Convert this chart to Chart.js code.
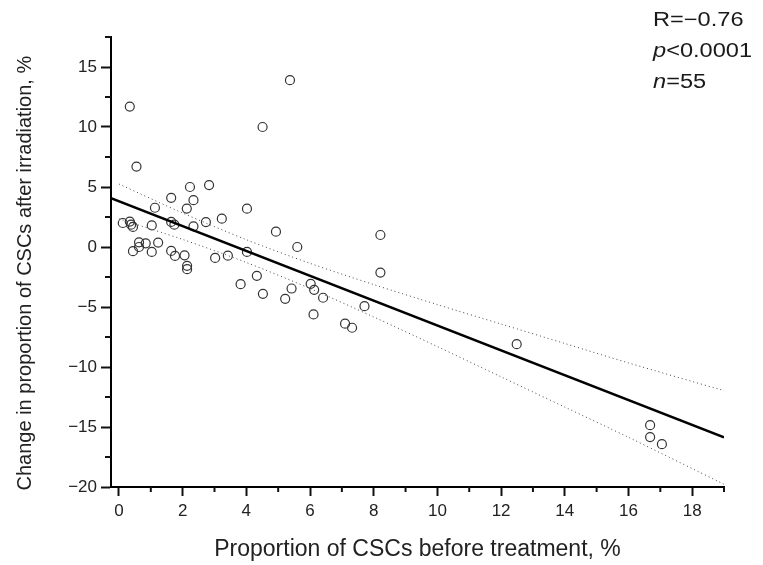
<!DOCTYPE html>
<html lang="en">
    <head>
        <meta charset="UTF-8" />
        <title>CSCs change after irradiation</title>
        <script src="https://cdn.jsdelivr.net/npm/chart.js@4.4.0/dist/chart.umd.min.js"></script>
        <style>
            body { margin: 0; background: #fff; }
            #wrap { position: relative; width: 763px; height: 565px; }
            #stats {
                position: absolute; left: 653px; top: 4px;
                font-family: "Liberation Sans", Arial, sans-serif;
                font-size: 20px; line-height: 31px; color: #1a1a1a;
                transform: scaleX(1.18); transform-origin: left top;
            }
        </style>
    </head>
    <body>
        <div id="wrap">
            <canvas id="chart"></canvas>
            <div id="stats">R=&minus;0.76<br><i>p</i>&lt;0.0001<br><i>n</i>=55</div>
        </div>
        <script>

        // proportion before treatment (x) and change after irradiation (y), %
        const xVals = [0.34, 5.37, 4.51, 0.55, 2.23, 2.83, 1.64, 2.34, 1.13, 2.13,
                       4.02, 3.23, 2.73, 0.12, 0.34, 0.44, 1.03, 1.64, 1.74, 2.34,
                       4.93, 5.60, 0.63, 0.84, 1.23, 0.44, 0.63, 1.03, 1.64, 1.76,
                       2.06, 2.14, 2.14, 3.02, 3.42, 4.02, 4.33, 3.82, 8.21, 8.21,
                       4.52, 5.22, 5.42, 6.02, 6.13, 6.41, 6.11, 7.71, 7.10, 7.32,
                       12.49, 16.68, 16.68, 17.05, 0.38];
        const yVals = [11.7, 13.9, 10.0, 6.7, 5.0, 5.16, 4.1, 3.9, 3.27, 3.2,
                       3.19, 2.36, 2.08, 2.0, 2.12, 1.67, 1.8, 2.09, 1.86, 1.72,
                       1.28, 0.0, 0.39, 0.31, 0.37, -0.35, 0.0, -0.41, -0.33, -0.74,
                       -0.69, -1.57, -1.85, -0.91, -0.72, -0.41, -2.4, -3.1, 1.0, -2.13,
                       -3.9, -4.32, -3.46, -3.07, -3.57, -4.23, -5.62, -4.93, -6.39, -6.73,
                       -8.1, -14.85, -15.84, -16.43, 1.86];

        // regression line and its confidence band
        const fitX = [-0.25, 19];
        const fitY = [4.06, -15.87];
        const bandX = [0, 2, 4, 6, 8, 10, 12, 14, 16, 19];
        const bandUpper = [5.25, 2.83, 0.61, -1.36, -3.13, -4.8, -6.42, -8.04, -9.66, -11.97];
        const bandLower = [2.35, 0.63, -1.29, -3.46, -5.83, -8.3, -10.82, -13.34, -15.86, -19.77];

        // axis ticks
        const xMajor = [0, 2, 4, 6, 8, 10, 12, 14, 16, 18];
        const xMinor = [1, 3, 5, 7, 9, 11, 13, 15, 17, 19];
        const yMajor = [-20, -15, -10, -5, 0, 5, 10, 15];
        const yMinor = [-17.5, -12.5, -7.5, -2.5, 2.5, 7.5, 12.5, 17.5];

        const pts = xVals.map((x, i) => ({ x: x, y: yVals[i] }));
        const fit = fitX.map((x, i) => ({ x: x, y: fitY[i] }));
        const upper = bandX.map((x, i) => ({ x: x, y: bandUpper[i] }));
        const lower = bandX.map((x, i) => ({ x: x, y: bandLower[i] }));

        const fmt = v => (v < 0 ? '\u2212' + Math.abs(v) : String(v));

        const minorTicks = {
            id: 'minorTicks',
            afterDraw(chart) {
                const ctx = chart.ctx;
                const sx = chart.scales.x, sy = chart.scales.y;
                ctx.save();
                ctx.strokeStyle = '#111';
                ctx.lineWidth = 2;
                ctx.beginPath();
                xMinor.forEach(v => {
                    const px = sx.getPixelForValue(v);
                    ctx.moveTo(px, sx.top);
                    ctx.lineTo(px, sx.top + 5);
                });
                yMinor.forEach(v => {
                    const py = sy.getPixelForValue(v);
                    ctx.moveTo(sy.right, py);
                    ctx.lineTo(sy.right - 6, py);
                });
                ctx.stroke();
                ctx.restore();
            }
        };

        const font = '"Liberation Sans", Arial, sans-serif';

        new Chart(document.getElementById('chart'), {
            type: 'scatter',
            data: {
                datasets: [
                    { data: upper, showLine: true, pointRadius: 0, borderColor: '#444',
                      borderWidth: 1, borderDash: [1, 3], tension: 0.3 },
                    { data: lower, showLine: true, pointRadius: 0, borderColor: '#444',
                      borderWidth: 1, borderDash: [1, 3], tension: 0.3 },
                    { data: fit, showLine: true, pointRadius: 0, borderColor: '#000',
                      borderWidth: 2.5 },
                    { data: pts, pointRadius: 4.5, pointBorderWidth: 1.2,
                      pointBorderColor: '#333', pointBackgroundColor: 'rgba(0,0,0,0)' }
                ]
            },
            options: {
                responsive: true,
                maintainAspectRatio: false,
                animation: false,
                layout: { padding: { top: 37, right: 39, left: 0, bottom: 0 } },
                plugins: { legend: { display: false }, tooltip: { enabled: false } },
                scales: {
                    x: {
                        type: 'linear', min: -0.25, max: 19,
                        afterFit(scale) { scale.height = 78; },
                        afterBuildTicks(scale) { scale.ticks = xMajor.map(v => ({ value: v })); },
                        border: { display: true, color: '#000', width: 2 },
                        grid: { drawOnChartArea: false, drawTicks: true, tickLength: 9,
                                tickColor: '#111', tickWidth: 2 },
                        ticks: { padding: 5, color: '#222', font: { family: font, size: 17 },
                                 maxRotation: 0, autoSkip: false, callback: v => fmt(v) },
                        title: { display: true, text: 'Proportion of CSCs before treatment, %',
                                 color: '#222', font: { family: font, size: 23 },
                                 padding: { top: 0, bottom: 2 } }
                    },
                    y: {
                        type: 'linear', min: -20, max: 17.5,
                        afterFit(scale) { scale.width = 111; },
                        afterBuildTicks(scale) { scale.ticks = yMajor.map(v => ({ value: v })); },
                        border: { display: true, color: '#000', width: 2 },
                        grid: { drawOnChartArea: false, drawTicks: true, tickLength: 10,
                                tickColor: '#111', tickWidth: 2 },
                        ticks: { padding: 4, color: '#222', font: { family: font, size: 17 },
                                 autoSkip: false, callback: v => fmt(v) },
                        title: { display: true, text: 'Change in proportion of CSCs after irradiation, %    ',
                                 color: '#222', font: { family: font, size: 20 },
                                 padding: { top: 13, bottom: 0 } }
                    }
                }
            },
            plugins: [minorTicks]
        });

        </script>
    </body>
</html>
